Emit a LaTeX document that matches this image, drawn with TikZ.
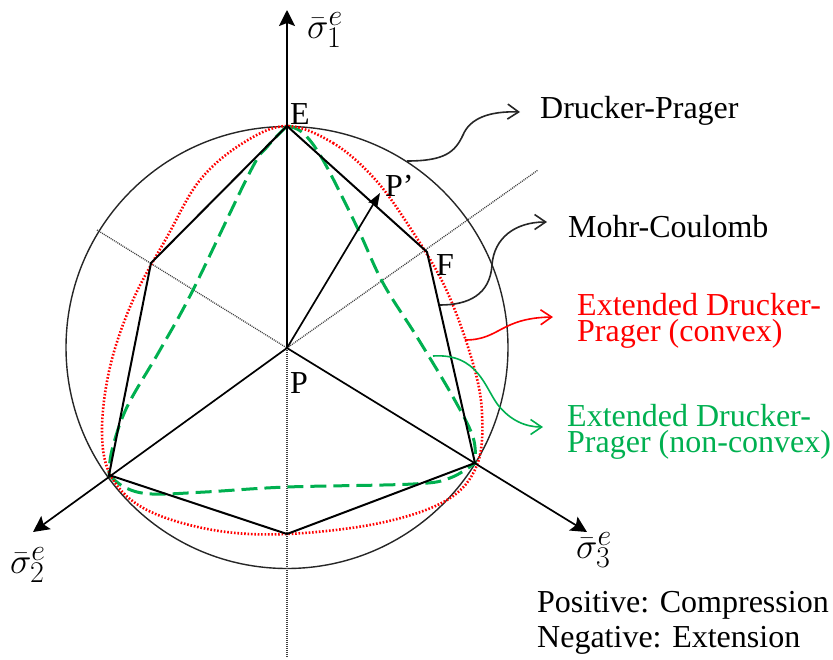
\documentclass[tikz,border=0pt]{standalone}
\usepackage{graphicx}
\usepackage{fontspec}
\setmainfont{Liberation Serif}
\usetikzlibrary{arrows.meta}
\definecolor{mygreen}{RGB}{0,176,80}
\definecolor{myred}{RGB}{255,0,0}
\newcommand{\bigsig}[1]{\scalebox{1.45}{$\bar{\sigma}_{#1}^{e}$}}
\begin{document}
\begin{tikzpicture}[x=1pt,y=-1pt,
  axis/.style={line width=1.7pt, -{Stealth[length=16pt,width=16pt,inset=3pt]}},
  hexa/.style={line width=2pt, line join=miter},
  dotax/.style={line width=1.3pt, black!75, dash pattern=on 1pt off 1pt},
  circ/.style={line width=1.4pt, black!85},
  edpred/.style={myred, line width=2.6pt, dash pattern=on 1.6pt off 1.8pt},
  edpgreen/.style={mygreen, line width=3pt, dash pattern=on 16pt off 7pt},
  callout/.style={line width=1.6pt, -{Straight Barb[length=11pt,width=15pt]}},
  lbl/.style={font=\fontsize{32}{36}\selectfont, inner sep=0pt},
  mlbl/.style={font=\fontsize{24.88}{30}\selectfont, inner sep=0pt},
  ptlbl/.style={font=\fontsize{32}{36}\selectfont, inner sep=0pt},
]
\useasboundingbox (0,0) rectangle (833,659);

% key points
\coordinate (P) at (287,348);
\coordinate (E) at (287,126);
\coordinate (F) at (427,252);
\coordinate (R) at (475,463);
\coordinate (B) at (287,534);
\coordinate (L) at (109,475);
\coordinate (U) at (151,263);
\coordinate (Pp) at (380,193);
\coordinate (s1tip) at (287,10);
\coordinate (s2tip) at (33,532);
\coordinate (s3tip) at (587,532);
\coordinate (dul) at (97,230);
\coordinate (dur) at (538,170);
\coordinate (dbot) at (287,657);

% circle (Drucker-Prager)
\draw[circ] (287,347.5) circle[radius=221];

% dotted negative axes
\draw[dotax] (dul) -- (P);
\draw[dotax] (P) -- (dur);
\draw[dotax] (P) -- (dbot);

% Extended Drucker-Prager (non-convex), green
\draw[edpgreen] plot[smooth, tension=0.6] coordinates {(287,126) (267,147) (250,172) (193,290) (160,350) (127,407) (112,450) (109,475)};
\draw[edpgreen] plot[smooth, tension=0.6] coordinates {(287,126) (303,133) (323,160) (357,227) (383,283) (417,337) (453,397) (473,437) (475,463)};
\draw[edpgreen] plot[smooth, tension=0.6] coordinates {(109,475) (126,488) (152,494) (205,492) (287,487) (413,484) (450,478) (475,463)};

% Extended Drucker-Prager (convex), red
\draw[edpred] plot[smooth cycle, tension=0.6] coordinates {(287,126) (333,143) (373,177) (407,223) (445,287) (472,360) (482,413) (477,465) (447,500) (380,523) (287,534) (213,530) (147,510) (112,478) (102,433) (110,367) (133,300) (167,237) (200,180) (243,143)};

% Mohr-Coulomb hexagon
\draw[hexa] (E) -- (F) -- (R) -- (B) -- (L) -- (U) -- cycle;

% axes
\draw[axis] (P) -- (s1tip);
\draw[axis] (P) -- (s2tip);
\draw[axis] (P) -- (s3tip);

% P -> P'
\draw[line width=1.7pt, -{Stealth[length=14pt,width=10pt,inset=2pt]}] (P) -- (Pp);

% point labels
\node[ptlbl] (lE) at (300,114) {E};
\node[ptlbl] (lF) at (445,265) {F};
\node[ptlbl, anchor=base west] (lPp) at (385,196) {P’};
\node[ptlbl, anchor=base west] (lP) at (290,393) {P};

% axis labels
\node[mlbl] (ls1) at (325,30) {\bigsig{1}};
\node[mlbl] (ls2) at (28,565) {\bigsig{2}};
\node[mlbl] (ls3) at (594,550) {\bigsig{3}};

% legend texts
\node[lbl, anchor=base west] (tDP) at (540,118) {Drucker-Prager};
\node[lbl, anchor=base west] (tMC) at (568,237) {Mohr-Coulomb};
\node[lbl, anchor=base west, text=myred] (tC1) at (577,315) {Extended Drucker-};
\node[lbl, anchor=base west, text=myred] (tC2) at (577,341) {Prager (convex)};
\node[lbl, anchor=base west, text=mygreen] (tN1) at (567,426) {Extended Drucker-};
\node[lbl, anchor=base west, text=mygreen] (tN2) at (567,452) {Prager (non-convex)};
\node[lbl, anchor=base west] (tPos) at (537,612) {Positive: Compression};
\node[lbl, anchor=base west] (tNeg) at (537,647) {Negative: Extension};

% callout arrows
\coordinate (dpS) at (407,161);
\coordinate (dpT) at (520,112);
\draw[callout, black!85] (dpS) .. controls (445,161) and (455,152) .. (463,135) .. controls (470,118) and (490,111) .. (dpT);
\coordinate (mcS) at (440,305);
\coordinate (mcT) at (547,222);
\draw[callout, black!85] (mcS) .. controls (468,305) and (490,295) .. (492,265) .. controls (494,238) and (515,222) .. (mcT);
\coordinate (cvS) at (465,340);
\coordinate (cvT) at (553,317);
\draw[callout, myred] (cvS) .. controls (500,340) and (500,318) .. (cvT);
\coordinate (ncS) at (433,356);
\coordinate (ncT) at (543,427);
\draw[callout, mygreen] (ncS) .. controls (478,353) and (485,388) .. (498,405) .. controls (510,420) and (525,427) .. (ncT);
\end{tikzpicture}
\end{document}
